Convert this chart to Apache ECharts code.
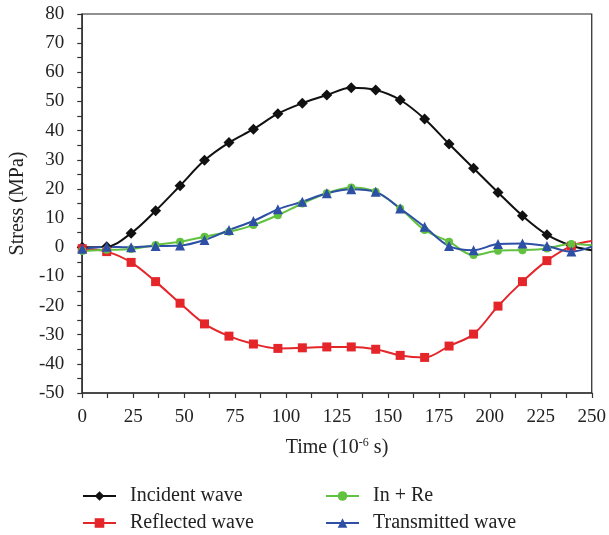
<!DOCTYPE html>
<html>
<head>
<meta charset="utf-8">
<script src="https://cdn.jsdelivr.net/npm/echarts@6/dist/echarts.min.js"></script>
<style>
  html, body { margin: 0; padding: 0; background: #fff; }
  #chart { width: 609px; height: 535px; }
</style>
</head>
<body>
<div id="chart"></div>
<script>
// Sampling times (10^-6 s); the final 250 point only carries the line to the frame edge
const times = [0, 12, 24, 36, 48, 60, 72, 84, 96, 108, 120, 132, 144, 156, 168, 180, 192, 204, 216, 228, 240, 250];

// Stress (MPa) per wave
const incident = [0, 0.2, 4.8, 12.5, 21.1, 29.8, 35.9, 40.5, 45.8, 49.4, 52.2, 54.7, 53.9, 50.5, 44.0, 35.4, 27.1, 18.8, 10.8, 4.3, 0.5, -1.0];
const reflected = [-0.5, -1.5, -5.2, -11.8, -19.2, -26.3, -30.5, -33.2, -34.7, -34.5, -34.2, -34.2, -35.0, -37.1, -37.8, -33.9, -29.8, -20.2, -11.8, -4.6, 0.4, 2.1];
const inPlusRe = [-1.3, -0.9, -0.6, 0.8, 1.9, 3.6, 5.3, 7.6, 11.0, 15.0, 18.5, 20.5, 19.0, 13.3, 5.9, 1.9, -2.7, -1.2, -1.0, -0.4, 1.1, 0.7];
const transmitted = [-0.5, 0.2, 0.0, 0.4, 0.6, 2.5, 5.9, 9.0, 13.0, 15.6, 18.5, 19.9, 19.0, 13.3, 7.0, 0.4, -1.0, 1.1, 1.3, 0.4, -1.5, 0.2];

const xTicks = { min: 0, max: 250, step: 25 };
const yTicks = { min: -50, max: 80, step: 10 };

const FONT = '"Liberation Serif", "DejaVu Serif", serif';
const TEXT = '#222';

function pairs(values) {
  return values.map((v, i) => {
    const item = { value: [times[i], v] };
    if (times[i] === 250) item.symbol = 'none';
    return item;
  });
}

function waveSeries(name, values, color, symbol, size) {
  return {
    name: name,
    type: 'line',
    data: pairs(values),
    smooth: 0.35,
    symbol: symbol,
    symbolSize: size,
    showAllSymbol: true,
    lineStyle: { color: color, width: 2 },
    itemStyle: { color: color },
    emphasis: { disabled: true },
    z: 2
  };
}

function legendColumn(left, names) {
  return {
    left: left, top: 486, orient: 'vertical', itemGap: 7, padding: 0,
    height: 60,
    itemWidth: 33, itemHeight: 12,
    textStyle: { fontFamily: FONT, fontSize: 20, lineHeight: 20, color: TEXT, padding: [0, 0, 0, 9] },
    data: names
  };
}

const chart = echarts.init(document.getElementById('chart'), null, { renderer: 'canvas' });

chart.setOption({
  animation: false,
  backgroundColor: '#fff',
  textStyle: { fontFamily: FONT },
  grid: {
    left: 82, right: 14, top: 14, bottom: 142,
    show: true, borderColor: '#222', borderWidth: 1.2, backgroundColor: 'transparent'
  },
  legend: [
    legendColumn(82, ['Incident wave', 'Reflected wave']),
    legendColumn(325, ['In + Re', 'Transmitted wave'])
  ],
  xAxis: {
    type: 'value',
    min: xTicks.min, max: xTicks.max, interval: xTicks.step,
    name: 'Time (10{sup|-6} s)',
    nameLocation: 'middle', nameGap: 44,
    nameTextStyle: {
      fontFamily: FONT, fontSize: 20, color: TEXT,
      rich: { sup: { fontFamily: FONT, fontSize: 12, color: TEXT, verticalAlign: 'top', padding: [0, 0, 9, 0] } }
    },
    axisLine: { show: true, onZero: false, lineStyle: { color: '#333', width: 1.5 } },
    axisTick: { show: true, length: 5, lineStyle: { color: '#333', width: 1.2 } },
    minorTick: { show: true, splitNumber: 2, length: 5, lineStyle: { color: '#333', width: 1.2 } },
    axisLabel: { fontFamily: FONT, fontSize: 19, color: TEXT, margin: 15 },
    splitLine: { show: false }
  },
  yAxis: {
    type: 'value',
    min: yTicks.min, max: yTicks.max, interval: yTicks.step,
    name: 'Stress (MPa)',
    nameLocation: 'middle', nameGap: 52,
    nameTextStyle: { fontFamily: FONT, fontSize: 20, color: TEXT },
    axisLine: { show: true, onZero: false, lineStyle: { color: '#333', width: 1.5 } },
    axisTick: { show: true, length: 5, lineStyle: { color: '#333', width: 1.2 } },
    minorTick: { show: true, splitNumber: 2, length: 5, lineStyle: { color: '#333', width: 1.2 } },
    axisLabel: { fontFamily: FONT, fontSize: 19, color: TEXT, margin: 18 },
    splitLine: { show: false }
  },
  series: [
    waveSeries('Incident wave', incident, '#111111', 'diamond', 11),
    waveSeries('Reflected wave', reflected, '#e4262b', 'rect', 9),
    waveSeries('In + Re', inPlusRe, '#62c13f', 'circle', 8),
    waveSeries('Transmitted wave', transmitted, '#2d4fa6', 'triangle', 10)
  ]
});
</script>
</body>
</html>
